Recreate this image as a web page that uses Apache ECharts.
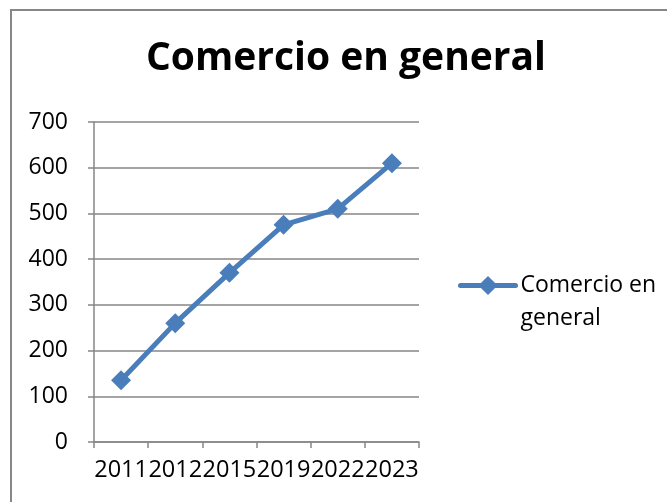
<!DOCTYPE html>
<html>
<head>
<meta charset="utf-8">
<script src="https://cdn.jsdelivr.net/npm/echarts@6/dist/echarts.min.js"></script>
<style>
  html, body { margin: 0; padding: 0; background: #fff; }
  #chart { width: 667px; height: 502px; }
</style>
</head>
<body>
<div id="chart"></div>
<script>
const years = ['2011', '2012', '2015', '2019', '2022', '2023']
const comercio = [135, 260, 370, 475, 510, 610]
const seriesName = 'Comercio en general'

const chart = echarts.init(document.getElementById('chart'))
const font = 'Open Sans'

chart.setOption({
  animation: false,
  title: {
    text: 'Comercio en general',
    left: 341,
    textAlign: 'center',
    top: 34,
    textStyle: { fontFamily: font, fontWeight: 'bold', fontSize: 39, color: '#000' }
  },
  graphic: [{
    type: 'rect',
    shape: { x: 11, y: 10, width: 700, height: 520 },
    style: { fill: 'none', stroke: '#878787', lineWidth: 2 },
    silent: true
  }],
  legend: {
    left: 458,
    top: 236,
    padding: 0,
    itemWidth: 55,
    itemHeight: 24,
    itemGap: 5,
    // blank first line keeps the icon level with "Comercio en"
    formatter: () => ' \nComercio en\ngeneral',
    lineStyle: { width: 5, cap: 'round' },
    textStyle: { fontFamily: font, fontSize: 23, color: '#000', lineHeight: 33 },
    data: [seriesName]
  },
  grid: { left: 94, right: 248, top: 122, bottom: 60 },
  xAxis: {
    type: 'category',
    data: years,
    boundaryGap: true,
    axisLine: { lineStyle: { color: '#868686', width: 1.5 } },
    axisTick: { show: true, length: 6, lineStyle: { color: '#868686', width: 1.5 } },
    axisLabel: { interval: 0, margin: 16, fontFamily: font, fontSize: 23.5, color: '#000' }
  },
  yAxis: {
    type: 'value',
    min: 0,
    max: 700,
    interval: 100,
    axisLine: { show: true, lineStyle: { color: '#868686', width: 1.5 } },
    axisTick: { show: true, length: 6, lineStyle: { color: '#868686', width: 1.5 } },
    axisLabel: { margin: 26, fontFamily: font, fontSize: 23, color: '#000' },
    splitLine: { lineStyle: { color: '#868686', width: 1.5 } }
  },
  series: [{
    name: seriesName,
    type: 'line',
    data: comercio,
    symbol: 'diamond',
    symbolSize: 20,
    lineStyle: { color: '#4a7ebb', width: 5 },
    itemStyle: { color: '#4a7ebb' }
  }]
})
</script>
</body>
</html>
